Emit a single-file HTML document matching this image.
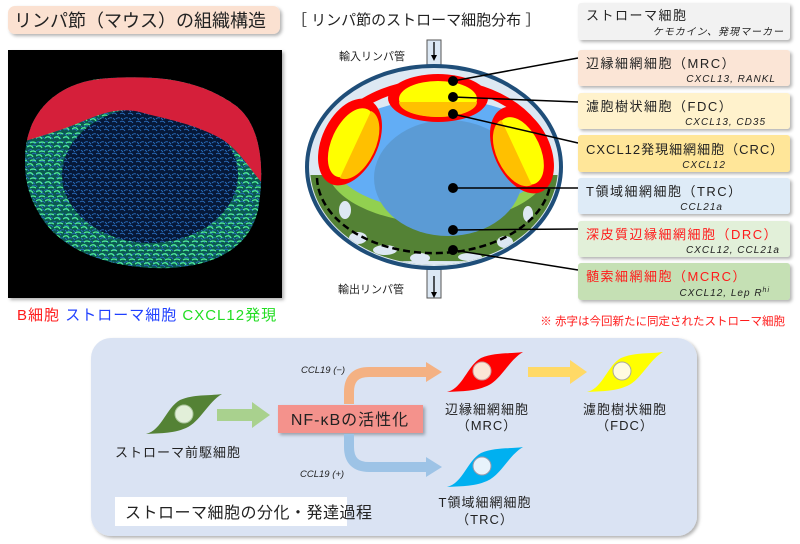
<!DOCTYPE html>
<html><head><meta charset="utf-8"><style>
body{margin:0;background:#fff}
svg{display:block}
text{font-family:"Liberation Sans","Noto Sans CJK JP",sans-serif}
</style></head><body>
<svg width="800" height="544" viewBox="0 0 800 544" xmlns="http://www.w3.org/2000/svg">
<defs>
<filter id="sh" x="-10%" y="-10%" width="130%" height="140%"><feDropShadow dx="2" dy="2" stdDeviation="1.5" flood-color="#000" flood-opacity="0.3"/></filter>
<pattern id="noise" width="8" height="8" patternUnits="userSpaceOnUse"><path d="M0 2 Q3 0 5 3 M4 7 Q6 5 8 6 M1 6 L3 8" stroke="#2a6fc0" stroke-width="0.9" fill="none"/></pattern>
<pattern id="gnoise" width="9" height="9" patternUnits="userSpaceOnUse"><path d="M0 3 Q4 0 6 4 M3 8 Q6 6 9 8" stroke="#55ff99" stroke-width="1.2" fill="none"/></pattern>
<clipPath id="inner"><ellipse cx="434" cy="167" rx="124" ry="98"/></clipPath>
<clipPath id="tclip"><path d="M25,160 C25,110 60,80 110,78 C160,75 200,80 235,105 C262,125 265,170 258,210 C250,245 220,265 170,268 C110,270 60,250 40,215 C28,195 25,180 25,160Z"/></clipPath>
<path id="cell" d="M-38,20 C-22,16 -18,-6 -4,-14 C10,-20 24,-18 38,-20 C24,-12 16,8 2,14 C-12,20 -26,19 -38,20Z"/>
</defs>

<!-- title -->
<rect x="8" y="6" width="272" height="28" rx="7" fill="#fbe1d1" filter="url(#sh)"/>
<text x="14" y="27" font-size="18" fill="#222">リンパ節（マウス）の組織構造</text>
<text x="292" y="25" font-size="15" fill="#222">［ リンパ節のストローマ細胞分布 ］</text>

<!-- microscopy -->
<rect x="8" y="50" width="274" height="248" fill="#000" filter="url(#sh)"/>
<g clip-path="url(#tclip)">
<rect x="20" y="70" width="250" height="205" fill="#0a5a50"/>
<ellipse cx="150" cy="175" rx="88" ry="68" fill="#061838"/>
<rect x="20" y="70" width="250" height="205" fill="url(#noise)"/>
<path d="M20,70 H270 V275 H20Z M150,107 A88,68 0 1 0 150.1,107Z" fill="url(#gnoise)" fill-rule="evenodd" opacity="0.9"/>
<path d="M22,140 C30,100 60,82 110,78 C160,75 200,80 235,105 C258,122 264,150 264,185 C250,170 240,150 220,138 C190,122 160,118 140,112 C110,105 90,120 60,130 C45,135 35,138 22,142Z" fill="#d51f3a"/>
</g>
<text x="17" y="320" font-size="15" fill="#ff1a1a" letter-spacing="1">B細胞 <tspan fill="#1f3fff">ストローマ細胞</tspan> <tspan fill="#22dd22">CXCL12発現</tspan></text>

<!-- lymph node diagram -->
<rect x="427" y="40" width="14" height="30" fill="#dce8f4" stroke="#555" stroke-width="1"/>
<rect x="427" y="262" width="14" height="36" fill="#dce8f4" stroke="#555" stroke-width="1"/>
<ellipse cx="434" cy="167" rx="127" ry="101" fill="#dde8f3" stroke="#1f4e79" stroke-width="4"/>
<g clip-path="url(#inner)">
<rect x="300" y="175" width="270" height="110" fill="#548235"/>
<ellipse cx="345" cy="210" rx="6" ry="9" fill="#dde8f3"/>
<ellipse cx="358" cy="238" rx="9" ry="6" fill="#dde8f3"/>
<ellipse cx="385" cy="250" rx="12" ry="5" fill="#dde8f3"/>
<ellipse cx="420" cy="258" rx="10" ry="5" fill="#dde8f3"/>
<ellipse cx="470" cy="257" rx="12" ry="4" fill="#dde8f3"/>
<ellipse cx="505" cy="242" rx="8" ry="6" fill="#dde8f3"/>
<ellipse cx="528" cy="214" rx="5" ry="8" fill="#dde8f3"/>
<ellipse cx="434" cy="268" rx="120" ry="7" fill="#dde8f3"/>
</g>
<ellipse cx="438" cy="165" rx="112" ry="58" fill="#92d050"/>
<ellipse cx="440" cy="155" rx="110" ry="56" fill="#62adf5"/>
<ellipse cx="448" cy="178" rx="74" ry="58" fill="#5b9bd5"/>
<path d="M326,150 A112,82 0 0 1 546,150" stroke="#ff0000" stroke-width="9" fill="none"/>
<ellipse cx="438" cy="98" rx="50" ry="24" fill="#ff0000"/>
<ellipse cx="438" cy="99" rx="39" ry="18" fill="#ffff00"/>
<path d="M399,102 A39,15 0 0 0 477,102 Z" fill="#ffc000"/>
<g transform="rotate(25 350 142)"><ellipse cx="350" cy="142" rx="28" ry="46" fill="#ff0000"/><ellipse cx="352" cy="142" rx="20" ry="37" fill="#ffff00"/><path d="M356,105 A20,37 0 0 1 356,179 Z" fill="#ffc000"/></g>
<g transform="rotate(-25 522 150)"><ellipse cx="522" cy="150" rx="28" ry="46" fill="#ff0000"/><ellipse cx="520" cy="150" rx="20" ry="36" fill="#ffff00"/><path d="M516,114 A20,36 0 0 0 516,186 Z" fill="#ffc000"/></g>
<path d="M317,178 A117,77 0 0 0 550,186" stroke="#000" stroke-width="2.5" stroke-dasharray="7,4" fill="none"/>
<line x1="434" y1="42" x2="434" y2="58" stroke="#000" stroke-width="1.3"/><path d="M431,55 L434,61 L437,55Z" fill="#000"/>
<line x1="434" y1="276" x2="434" y2="296" stroke="#000" stroke-width="1.3"/><path d="M431,292 L434,298 L437,292Z" fill="#000"/>
<text x="339" y="60" font-size="11" fill="#222">輸入リンパ管</text>
<text x="338" y="293" font-size="11" fill="#222">輸出リンパ管</text>
<g stroke="#000" stroke-width="1.5">
<line x1="453" y1="81" x2="578" y2="58"/><line x1="453" y1="97" x2="578" y2="102"/><line x1="453" y1="114" x2="578" y2="143"/>
<line x1="453" y1="188" x2="578" y2="188"/><line x1="453" y1="230" x2="578" y2="229"/><line x1="453" y1="250" x2="578" y2="270"/>
</g>
<g fill="#000"><circle cx="453" cy="81" r="5"/><circle cx="453" cy="97" r="5"/><circle cx="453" cy="114" r="5"/><circle cx="453" cy="188" r="5"/><circle cx="453" cy="230" r="5"/><circle cx="453" cy="250" r="5"/></g>

<!-- right boxes -->
<g filter="url(#sh)">
<rect x="578" y="3" width="212" height="37" rx="3" fill="#f2f2f2"/>
<rect x="578" y="50" width="212" height="36" rx="3" fill="#fbe5d6"/>
<rect x="578" y="93" width="212" height="36" rx="3" fill="#fff2cc"/>
<rect x="578" y="135" width="212" height="37" rx="3" fill="#ffe699"/>
<rect x="578" y="178" width="212" height="36" rx="3" fill="#deebf7"/>
<rect x="578" y="221" width="212" height="36" rx="3" fill="#e2f0d9"/>
<rect x="578" y="263" width="212" height="37" rx="3" fill="#c5e0b4"/>
</g>
<g font-size="13" fill="#222" letter-spacing="1.5">
<text x="586" y="20">ストローマ細胞</text>
<text x="586" y="68">辺縁細網細胞（MRC）</text>
<text x="586" y="111">濾胞樹状細胞（FDC）</text>
<text x="586" y="154" letter-spacing="1">CXCL12発現細網細胞（CRC）</text>
<text x="586" y="196">T領域細網細胞（TRC）</text>
<text x="586" y="239" fill="#ff1a1a">深皮質辺縁細網細胞（DRC）</text>
<text x="586" y="281" fill="#ff1a1a">髄索細網細胞（MCRC）</text>
</g>
<g font-size="10" fill="#222" font-style="italic" text-anchor="end" letter-spacing="1">
<text x="784" y="35">ケモカイン、発現マーカー</text>
<text x="776" y="82">CXCL13, RANKL</text>
<text x="766" y="125">CXCL13, CD35</text>
<text x="726" y="168">CXCL12</text>
<text x="723" y="210">CCL21a</text>
<text x="780" y="253">CXCL12, CCL21a</text>
<text x="770" y="296">CXCL12, Lep R<tspan font-size="7" dy="-4">hi</tspan></text>
</g>
<text x="785" y="325" font-size="11.5" fill="#ff1a1a" text-anchor="end">※ 赤字は今回新たに同定されたストローマ細胞</text>

<!-- bottom panel -->
<rect x="91" y="338" width="606" height="198" rx="20" fill="#dae3f3" filter="url(#sh)"/>
<g transform="translate(184,414)"><use href="#cell" fill="#548235"/><circle cx="0" cy="0" r="9" fill="#e2efd9" stroke="#a9c49a"/></g>
<text x="178" y="457" font-size="13" fill="#222" text-anchor="middle" letter-spacing="1">ストローマ前駆細胞</text>
<path d="M217,409 H252 V402 L270,415 L252,428 V421 H217Z" fill="#a9d18e"/>
<rect x="278" y="405" width="145" height="28" fill="#f4928c" filter="url(#sh)"/>
<text x="350" y="425" font-size="16" fill="#222" text-anchor="middle" letter-spacing="1">NF-κBの活性化</text>
<path d="M349,404 V392 Q349,372 369,372 H428" stroke="#f4b183" stroke-width="10" fill="none"/>
<path d="M426,362 L442,372 L426,382Z" fill="#f4b183"/>
<path d="M349,434 V447 Q349,467 369,467 H428" stroke="#9dc3e6" stroke-width="10" fill="none"/>
<path d="M426,457 L442,467 L426,477Z" fill="#9dc3e6"/>
<text x="301" y="373" font-size="9.5" font-style="italic" fill="#222">CCL19 (−)</text>
<text x="300" y="477" font-size="9.5" font-style="italic" fill="#222">CCL19 (+)</text>
<g transform="translate(485,372)"><use href="#cell" fill="#ff0000"/><circle cx="-3" cy="-1" r="9" fill="#fbe5d6" stroke="#c99"/></g>
<g transform="translate(625,372)"><use href="#cell" fill="#ffff00"/><circle cx="-3" cy="-1" r="9" fill="#fffbe0" stroke="#aa9"/></g>
<g transform="translate(485,467)"><use href="#cell" fill="#00b0f0"/><circle cx="-3" cy="-1" r="9" fill="#e8f3fb" stroke="#99a"/></g>
<path d="M528,367 H570 V360 L587,372 L570,384 V377 H528Z" fill="#ffd966"/>
<g font-size="13" fill="#222" text-anchor="middle" letter-spacing="1">
<text x="487" y="414">辺縁細網細胞</text><text x="487" y="430">（MRC）</text>
<text x="625" y="414">濾胞樹状細胞</text><text x="625" y="430">（FDC）</text>
<text x="485" y="507">T領域細網細胞</text><text x="485" y="524">（TRC）</text>
</g>
<rect x="115" y="497" width="232" height="29" fill="#fff"/>
<text x="125" y="518" font-size="16" fill="#222" letter-spacing="0.5">ストローマ細胞の分化・発達過程</text>
</svg>
</body></html>
